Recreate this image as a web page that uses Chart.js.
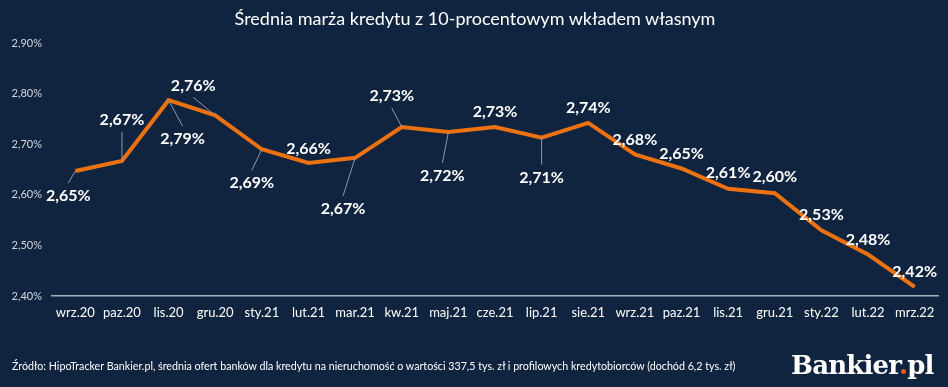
<!DOCTYPE html>
<html>
<head>
<meta charset="utf-8">
<script src="https://cdn.jsdelivr.net/npm/chart.js@4"></script>
<style>
  html, body { margin: 0; padding: 0; background: #11243f; }
  #wrap { position: relative; width: 948px; height: 387px; overflow: hidden; font-family: Lato, 'Open Sans', sans-serif; }
  #title { position: absolute; top: 7px; left: 0; width: 950px; text-align: center; color: #fff; font-size: 18px; }
  #source { position: absolute; left: 12px; top: 359px; color: #fff; font-size: 10.7px; white-space: nowrap; }
  #logo { position: absolute; left: 791px; top: 350px; color: #fff; font-family: 'DejaVu Serif', serif; font-weight: bold; font-size: 26px; letter-spacing: -0.8px; }
  #logo span { color: #ee5a1c; }
  canvas { position: absolute; top: 0; left: 0; }
</style>
</head>
<body>
<div id="wrap">
  <canvas id="chart" width="948" height="387"></canvas>
  <div id="title">Średnia marża kredytu z 10-procentowym wkładem własnym</div>
  <div id="source">Źródło: HipoTracker Bankier.pl, średnia ofert banków dla kredytu na nieruchomość o wartości 337,5 tys. zł i profilowych kredytobiorców (dochód 6,2 tys. zł)</div>
  <div id="logo">Bankier<span>.</span>pl</div>
</div>
<script>
// Data
const months = ['wrz.20', 'paz.20', 'lis.20', 'gru.20', 'sty.21', 'lut.21', 'mar.21', 'kw.21', 'maj.21', 'cze.21',
    'lip.21', 'sie.21', 'wrz.21', 'paz.21', 'lis.21', 'gru.21', 'sty.22', 'lut.22', 'mrz.22'];
const margin = [2.647, 2.667, 2.787, 2.757, 2.690, 2.663, 2.673, 2.734, 2.724, 2.734,
    2.713, 2.742, 2.680, 2.652, 2.612, 2.603, 2.530, 2.482, 2.418];
const yTicks = [2.40, 2.50, 2.60, 2.70, 2.80, 2.90];

// label placement relative to the point: [dx, dy, leader line]
const labelPos = [
    [-7, 25, true], [0, -41, true], [14, 39, true], [-22, -30, true], [-10, 34, true],
    [0, -14, false], [-12, 51, true], [-10, -31, true], [-6, 44, true], [0, -15, false],
    [0, 40, true], [0, -15, false], [0, -14, false], [0, -15, false], [0, -16, false],
    [0, -16, false], [0, -15, false], [0, -15, false], [0, -15, false]
];

const fmt = v => v.toFixed(2).replace('.', ',') + '%';

const pointLabels = {
    id: 'pointLabels',
    afterDatasetsDraw(chart) {
        const ctx = chart.ctx;
        const meta = chart.getDatasetMeta(0);
        ctx.save();
        meta.data.forEach((pt, i) => {
            const [dx, dy, leader] = labelPos[i];
            const lx = pt.x + dx, ly = pt.y + dy;
            if (leader) {
                ctx.strokeStyle = '#8f98a6';
                ctx.lineWidth = 1;
                ctx.beginPath();
                ctx.moveTo(pt.x, pt.y);
                ctx.lineTo(lx, ly + (dy > 0 ? -13 : 12));
                ctx.stroke();
            }
            ctx.fillStyle = '#ffffff';
            ctx.font = "bold 16px Lato, 'Open Sans', sans-serif";
            ctx.textAlign = 'center';
            ctx.textBaseline = 'middle';
            ctx.fillText(fmt(margin[i]), lx, ly);
        });
        ctx.restore();
    }
};

new Chart(document.getElementById('chart'), {
    type: 'line',
    data: {
        labels: months,
        datasets: [{
            data: margin,
            borderColor: '#ec7211',
            borderWidth: 4,
            pointRadius: 0,
            tension: 0,
            fill: false
        }]
    },
    options: {
        responsive: false,
        animation: false,
        layout: { padding: { top: 43, right: 10, bottom: 61, left: 0 } },
        plugins: { legend: { display: false }, tooltip: { enabled: false } },
        scales: {
            x: {
                offset: true,
                grid: { display: false, drawTicks: false },
                border: { display: true, color: '#a9b0bb', width: 1.5 },
                ticks: { color: '#ffffff', font: { size: 13, family: 'Lato' }, padding: 9, autoSkip: false, maxRotation: 0 },
                afterFit: s => { s.height = 30; }
            },
            y: {
                min: 2.4,
                max: 2.9,
                grid: { display: false, drawTicks: false },
                border: { display: false },
                afterBuildTicks: s => { s.ticks = yTicks.map(v => ({ value: v })); },
                ticks: { color: '#d5d9e0', font: { size: 11, family: 'Lato' }, padding: 10, callback: v => fmt(v) },
                afterFit: s => { s.width = 52; }
            }
        }
    },
    plugins: [pointLabels]
});
</script>
</body>
</html>
